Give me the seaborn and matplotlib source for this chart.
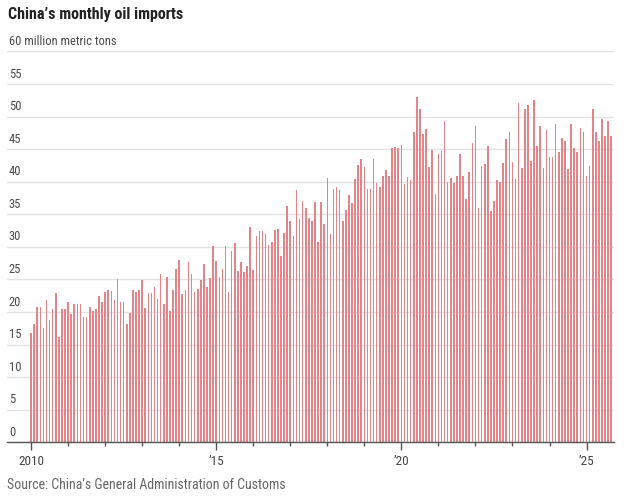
import numpy as np
import pandas as pd
import matplotlib
matplotlib.use("Agg")
import matplotlib.pyplot as plt
import matplotlib.transforms as mtransforms
from matplotlib import font_manager
import seaborn as sns

# ---- data (million metric tons, monthly, Jan 2010 - Sep 2025) ----
y2010 = [16.8, 18.1, 20.7, 20.8, 17.5, 21.9, 18.7, 20.5, 22.9, 16.1, 20.5, 20.5]
y2011 = [21.5, 19.7, 21.3, 21.3, 21.3, 19.3, 19.2, 20.7, 20.1, 20.5, 22.4, 21.6]
y2012 = [23.1, 23.4, 23.3, 21.9, 25.1, 21.5, 21.6, 18.1, 19.8, 23.4, 23.1, 23.4]
y2013 = [24.9, 20.6, 22.9, 22.9, 23.8, 22.0, 25.9, 21.2, 25.4, 20.2, 23.4, 26.6]
y2014 = [28.0, 22.8, 23.4, 27.7, 25.9, 23.0, 23.5, 24.9, 27.4, 23.9, 25.2, 30.1]
y2015 = [27.8, 25.3, 26.6, 30.1, 23.0, 29.4, 30.6, 26.3, 27.7, 26.2, 27.1, 33.0]
y2016 = [26.4, 31.6, 32.4, 32.4, 32.0, 30.3, 30.8, 32.6, 32.8, 28.6, 32.2, 36.2]
y2017 = [33.9, 31.6, 38.8, 34.2, 37.0, 36.0, 34.5, 33.9, 36.9, 30.8, 36.9, 33.5]
y2018 = [40.5, 31.9, 38.9, 39.2, 38.7, 34.0, 35.6, 38.0, 36.8, 40.4, 42.6, 43.5]
y2019 = [42.2, 38.9, 38.9, 43.5, 39.8, 39.2, 40.8, 41.8, 40.9, 45.1, 45.4, 45.1]
y2020 = [45.7, 39.6, 40.7, 40.2, 47.7, 53.0, 51.1, 47.3, 48.1, 42.2, 44.9, 38.1]
y2021 = [44.3, 44.7, 49.3, 40.0, 40.6, 39.8, 40.9, 44.3, 40.8, 37.4, 41.5, 45.9]
y2022 = [48.5, 35.9, 42.4, 42.7, 45.5, 35.5, 37.1, 40.2, 39.9, 42.9, 46.5, 47.7]
y2023 = [43.1, 40.4, 52.1, 42.1, 51.1, 51.7, 43.2, 52.5, 45.5, 48.6, 42.1, 48.0]
y2024 = [43.8, 43.8, 48.8, 44.5, 46.7, 46.2, 42.0, 48.8, 45.1, 44.5, 48.2, 47.6]
y2025 = [40.8, 42.4, 51.1, 47.7, 46.3, 49.7, 47.0, 49.3, 47.0]

years = list(range(2010, 2026))
yearly = [y2010, y2011, y2012, y2013, y2014, y2015, y2016, y2017,
          y2018, y2019, y2020, y2021, y2022, y2023, y2024, y2025]
labeled_years = [2010, 2015, 2020, 2025]
year_labels = ["2010", "\u201915", "\u201920", "\u201925"]
y_ticks = [0, 5, 10, 15, 20, 25, 30, 35, 40, 45, 50, 55, 60]
y_tick_labels = [str(v) for v in y_ticks[:-1]] + ["60 million metric tons"]

title = "China\u2019s monthly oil imports"
source = "Source: China\u2019s General Administration of Customs"

rows = []
for yr, vals in zip(years, yearly):
    for m, v in enumerate(vals):
        rows.append({"month": (yr - 2010) * 12 + m, "imports": v})
df = pd.DataFrame(rows)

# ---- style ----
sns.set_theme(style="white")

def pick_font(names):
    for n in names:
        try:
            font_manager.findfont(font_manager.FontProperties(family=n), fallback_to_default=False)
            return n
        except Exception:
            continue
    return "DejaVu Sans"

narrow = pick_font(["Liberation Sans Narrow", "Roboto Condensed", "Open Sans Condensed", "Roboto"])
plt.rcParams["font.family"] = [narrow, "DejaVu Sans"]

W, H = 624, 503
fig = plt.figure(figsize=(W / 100, H / 100), dpi=100)
ax_left, ax_right = 7, 614
ax_top, ax_bot = 51.4, 442.3
ax = fig.add_axes([ax_left / W, (H - ax_bot) / H, (ax_right - ax_left) / W, (ax_bot - ax_top) / H])

bar_color = "#e2858a"
sns.barplot(data=df, x="month", y="imports", color=bar_color, width=0.52,
            native_scale=True, saturation=1, ax=ax, edgecolor="none")

ax.set_xlim(-7.8, 188.9)
ax.set_ylim(0, 60)
ax.set_xlabel("")
ax.set_ylabel("")

# grid
ax.set_yticks(y_ticks)
ax.yaxis.grid(True, color="#e2e2e2", linewidth=1)
ax.set_axisbelow(True)
ax.tick_params(axis="y", left=False, labelleft=False)

for s in ["top", "right", "left"]:
    ax.spines[s].set_visible(False)
ax.spines["bottom"].set_color("#555555")
ax.spines["bottom"].set_linewidth(1.0)

# y labels above gridlines
off = mtransforms.offset_copy(ax.get_yaxis_transform(), fig=fig, x=0, y=2.5, units="points")
for v, lab in zip(y_ticks, y_tick_labels):
    ax.text(0.003, v, lab, transform=off, ha="left", va="bottom",
            fontsize=9, color="#4a4a4a")

# x ticks
major = [(y - 2010) * 12 for y in labeled_years]
minor = [(y - 2010) * 12 for y in years if y not in labeled_years]
ax.set_xticks(major)
ax.set_xticklabels(year_labels)
ax.set_xticks(minor, minor=True)
ax.tick_params(axis="x", which="major", bottom=True, length=6, width=1, color="#555555",
               labelsize=9.5, labelcolor="#444444", pad=3)
ax.tick_params(axis="x", which="minor", bottom=True, length=3, width=1, color="#555555")

fig.text(8 / W, 1 - 15 / H, title, ha="left", va="center", fontsize=11.5,
         fontweight="bold", color="#222222")
fig.text(7 / W, 1 - 485 / H, source, ha="left", va="center", fontsize=10,
         color="#666666")

fig.savefig("out.png", dpi=100)
